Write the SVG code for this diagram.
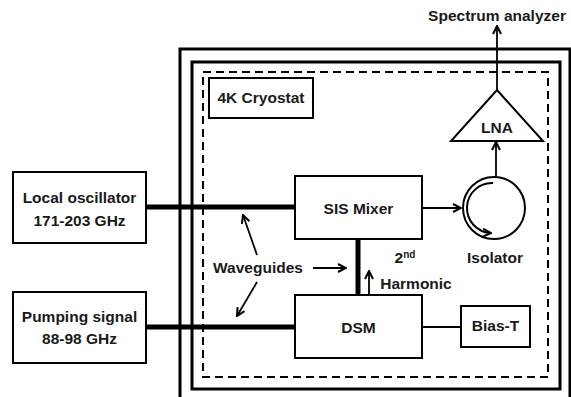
<svg xmlns="http://www.w3.org/2000/svg" width="571" height="397" viewBox="0 0 571 397">
<style>
text{font-family:"Liberation Sans",Arial,sans-serif;font-weight:bold;font-size:15.5px;fill:#1a1a1a;text-anchor:middle}
.box{fill:#fff;stroke:#000;stroke-width:2}
.frame{fill:none;stroke:#000;stroke-width:3}
.dash{fill:none;stroke:#000;stroke-width:2;stroke-dasharray:8,5}
.wg{stroke:#000;stroke-width:5;fill:none}
.ln{stroke:#000;stroke-width:1.8;fill:none}
</style>
<defs>
<marker id="ah" viewBox="0 0 10 10" refX="9" refY="5" markerWidth="10" markerHeight="10" markerUnits="userSpaceOnUse" orient="auto">
<path d="M1,1 L9,5 L1,9" fill="none" stroke="#000" stroke-width="2"/>
</marker>
</defs>
<rect width="571" height="397" fill="#fff"/>
<g id="frames">
<path class="frame" d="M180,397 V49 H570 V397"/>
<rect class="frame" x="192" y="62" width="368" height="327"/>
<rect class="dash" x="203" y="72" width="345" height="305"/>
</g>
<g id="connectors">
<line class="wg" x1="146" y1="207" x2="295" y2="207"/>
<line class="wg" x1="146" y1="327" x2="295" y2="327"/>
<line class="wg" x1="358" y1="239" x2="358" y2="295"/>
<line class="ln" x1="422" y1="208" x2="461" y2="208" marker-end="url(#ah)"/>
<line class="ln" x1="496" y1="177" x2="496" y2="142" marker-end="url(#ah)"/>
<line class="ln" x1="497" y1="90" x2="497" y2="26" marker-end="url(#ah)"/>
<line class="ln" x1="422" y1="327" x2="461" y2="327"/>
<line class="ln" x1="369" y1="294" x2="369" y2="271" marker-end="url(#ah)" stroke-width="1.3"/>
<line class="ln" x1="257" y1="255" x2="243" y2="215" marker-end="url(#ah)"/>
<line class="ln" x1="257" y1="282" x2="237" y2="316" marker-end="url(#ah)"/>
<line class="ln" x1="313" y1="268" x2="346" y2="268" marker-end="url(#ah)"/>
</g>
<g id="cryostat">
<rect class="box" x="209" y="78" width="104" height="40"/>
<text x="261" y="103">4K Cryostat</text>
</g>
<g id="local-oscillator">
<rect class="box" x="13" y="172" width="133" height="71"/>
<text x="79.5" y="203">Local oscillator</text>
<text x="79.5" y="226">171-203 GHz</text>
</g>
<g id="pumping-signal">
<rect class="box" x="13" y="292" width="133" height="71"/>
<text x="79.5" y="322">Pumping signal</text>
<text x="79.5" y="344">88-98 GHz</text>
</g>
<g id="sis-mixer">
<rect class="box" x="295" y="176" width="127" height="63"/>
<text x="358.5" y="214">SIS Mixer</text>
</g>
<g id="dsm">
<rect class="box" x="295" y="295" width="127" height="63"/>
<text x="358.5" y="333">DSM</text>
</g>
<g id="bias-t">
<rect class="box" x="461" y="306" width="69" height="41"/>
<text x="495.5" y="331">Bias-T</text>
</g>
<g id="isolator">
<circle cx="494" cy="208" r="31" fill="#fff" stroke="#000" stroke-width="2"/>
<path d="M493,183 A25,25 0 0 0 491,233" fill="none" stroke="#000" stroke-width="2" marker-end="url(#ah)"/>
<text x="495" y="263">Isolator</text>
</g>
<g id="lna">
<polygon points="497,90 543,141 451,141" fill="#fff" stroke="#000" stroke-width="2"/>
<text x="497" y="133">LNA</text>
</g>
<g id="labels">
<text x="497" y="21">Spectrum analyzer</text>
<text x="258" y="273">Waveguides</text>
<text x="405" y="263" text-anchor="start">2<tspan font-size="10" dy="-5">nd</tspan></text>
<text x="416" y="289">Harmonic</text>
</g>
</svg>
